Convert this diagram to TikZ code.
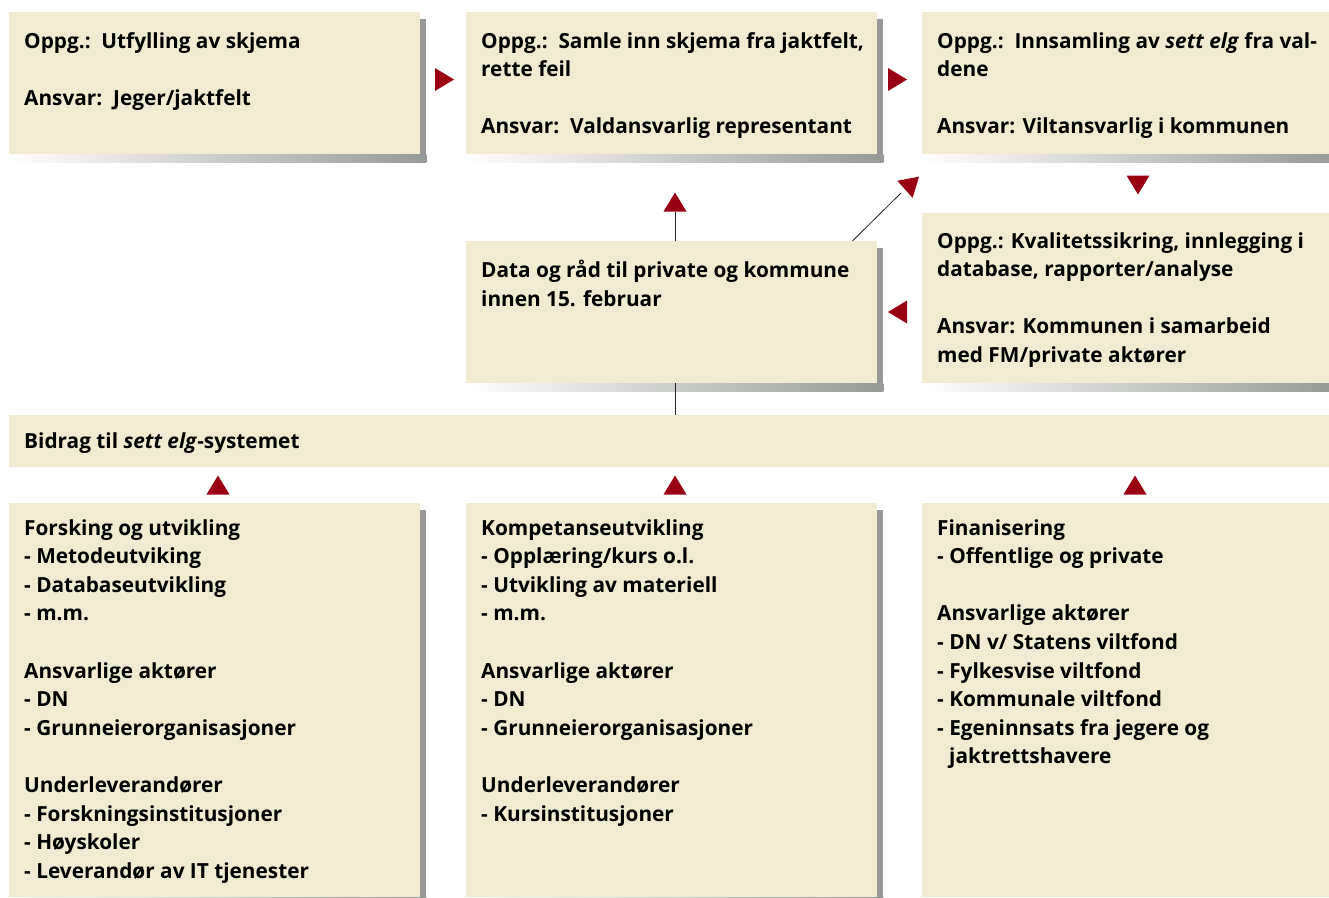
\documentclass[tikz,border=0pt]{standalone}
\usepackage{fontspec}
\setmainfont{Open Sans}
\usetikzlibrary{calc}
\definecolor{boxfill}{RGB}{241,236,209}
\definecolor{shadowgray}{RGB}{150,154,150}
\definecolor{arrowred}{RGB}{153,0,18}
\newcommand\boxshadow[1]{%
  \fill[shadowgray] ([yshift=-7pt]#1.north east) rectangle ([xshift=6pt,yshift=-8pt]#1.south east);
  \shade[left color=white,right color=shadowgray] (#1.south west) rectangle ([xshift=6pt,yshift=-8pt]#1.south east);
}
\tikzset{
  box/.style={rectangle, fill=boxfill, draw=none, inner sep=0pt, anchor=north west},
  txt/.style={anchor=north west, inner sep=0pt, align=left, font=\bfseries\fontsize{20.8}{28.6}\selectfont},
  conn/.style={draw=black!85, line width=0.8pt},
  tri/.pic={\fill[arrowred] (9.5,0) -- (-9.5,-11.5) -- (-9.5,11.5) -- cycle;}
}
\begin{document}
\begin{tikzpicture}[x=1pt,y=-1pt]
\useasboundingbox (0,0) rectangle (1329,897);
\clip (0,0) rectangle (1329,897);
% boxes
\node[box, minimum width=411, minimum height=142] (b1) at (9,12) {};
\node[box, minimum width=411, minimum height=142] (b2) at (466,12) {};
\node[box, minimum width=407, minimum height=142] (b3) at (922,12) {};
\node[box, minimum width=411, minimum height=142] (b4) at (466,241) {};
\node[box, minimum width=407, minimum height=170] (b5) at (922,213) {};
\node[box, minimum width=1320, minimum height=52] (bar) at (9,415) {};
\node[box, minimum width=411, minimum height=394] (c1) at (9,503) {};
\node[box, minimum width=411, minimum height=394] (c2) at (466,503) {};
\node[box, minimum width=407, minimum height=394] (c3) at (922,503) {};
% shadows
\boxshadow{b1}
\boxshadow{b2}
\boxshadow{b3}
\boxshadow{b4}
\boxshadow{b5}
\boxshadow{c1}
\boxshadow{c2}
% texts
\node[txt] (t1) at ([shift={(15pt,-20pt)}]b1.north west) {Oppg.:\ \ Utfylling av skjema\\[28.6pt]Ansvar:\ \ Jeger/jaktfelt};
\node[txt] (t2) at ([shift={(15pt,-20pt)}]b2.north west) {Oppg.:\ \ Samle inn skjema fra jaktfelt,\\rette feil\\[28.6pt]Ansvar:\ \ Valdansvarlig representant};
\node[txt] (t3) at ([shift={(15pt,-20pt)}]b3.north west) {Oppg.:\ \ Innsamling av \textit{sett elg} fra val-\\dene\\[28.6pt]Ansvar: Viltansvarlig i kommunen};
\node[txt] (t4) at ([shift={(15pt,-19pt)}]b4.north west) {Data og råd til private og kommune\\innen 15. februar};
\node[txt] (t5) at ([shift={(15pt,-19pt)}]b5.north west) {Oppg.: Kvalitetssikring, innlegging i\\database, rapporter/analyse\\[28.6pt]Ansvar: Kommunen i samarbeid\\med FM/private aktører};
\node[txt] (tbar) at ([shift={(15pt,-17pt)}]bar.north west) {Bidrag til \textit{sett elg}-systemet};
\node[txt] (tc1) at ([shift={(15pt,-16pt)}]c1.north west) {Forsking og utvikling\\- Metodeutviking\\- Databaseutvikling\\- m.m.\\[28.6pt]Ansvarlige aktører\\- DN\\- Grunneierorganisasjoner\\[28.6pt]Underleverandører\\- Forskningsinstitusjoner\\- Høyskoler\\- Leverandør av IT tjenester};
\node[txt] (tc2) at ([shift={(15pt,-16pt)}]c2.north west) {Kompetanseutvikling\\- Opplæring/kurs o.l.\\- Utvikling av materiell\\- m.m.\\[28.6pt]Ansvarlige aktører\\- DN\\- Grunneierorganisasjoner\\[28.6pt]Underleverandører\\- Kursinstitusjoner};
\node[txt] (tc3) at ([shift={(15pt,-16pt)}]c3.north west) {Finanisering\\- Offentlige og private\\[28.6pt]Ansvarlige aktører\\- DN v/ Statens viltfond\\- Fylkesvise viltfond\\- Kommunale viltfond\\- Egeninnsats fra jegere og\\\hspace*{12pt}jaktrettshavere};
% arrow positions
\coordinate (a12) at (444.5,79.5);
\coordinate (a23) at (897.5,79.5);
\coordinate (a35) at (1138,185);
\coordinate (a54) at (897.5,312);
\coordinate (a42) at (675,202);
\coordinate (a43) at (912,183);
\coordinate (ac1) at (218,485);
\coordinate (ac2) at (675,485);
\coordinate (ac3) at (1135,485);
% connectors
\draw[conn] (b4.north -| a42) -- ([yshift=-10pt]a42);
\draw[conn] (b4.south -| a42) -- (bar.north -| a42);
\draw[conn] ($(b4.north east)+(-25,0)$) -- ($(a43)+(-11,10)$);
% triangles
\pic at (a12) {tri};
\pic at (a23) {tri};
\pic[rotate=-90] at (a35) {tri};
\pic[rotate=180] at (a54) {tri};
\pic[rotate=90] at (a42) {tri};
\pic[rotate=42] at (a43) {tri};
\pic[rotate=90] at (ac1) {tri};
\pic[rotate=90] at (ac2) {tri};
\pic[rotate=90] at (ac3) {tri};
\end{tikzpicture}
\end{document}
